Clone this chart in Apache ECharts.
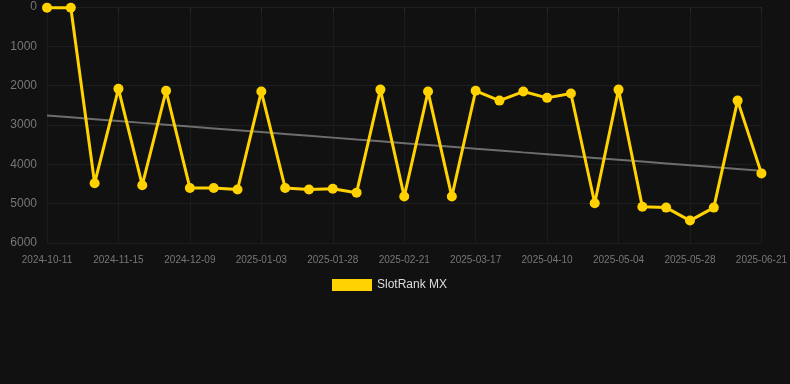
<!DOCTYPE html>
<html>
<head>
<meta charset="utf-8">
<script src="https://cdn.jsdelivr.net/npm/echarts@6/dist/echarts.min.js"></script>
<style>
html,body{margin:0;padding:0;background:#111111;}
#main{width:790px;height:384px;}
</style>
</head>
<body>
<div id="main"></div>
<script>
// 日期（类目轴）
var dates = ['2024-10-11','2024-10-23','2024-11-03','2024-11-15','2024-11-23','2024-12-01','2024-12-09','2024-12-17','2024-12-25',
	'2025-01-03','2025-01-11','2025-01-19','2025-01-28','2025-02-05','2025-02-13','2025-02-21','2025-03-01','2025-03-09',
	'2025-03-17','2025-03-25','2025-04-02','2025-04-10','2025-04-18','2025-04-26','2025-05-04','2025-05-12','2025-05-20',
	'2025-05-28','2025-06-05','2025-06-13','2025-06-21'];
// 排名
var rankValues = [20,20,4480,2080,4530,2130,4600,4600,4640,2150,4600,4640,4620,4720,2100,4820,2150,4820,
	2130,2380,2150,2310,2200,4990,2100,5080,5100,5430,5100,2380,4230];
var seriesName = 'SlotRank MX';

// 线性趋势
function trendLine(vals){
	var n = vals.length, sx = 0, sy = 0, sxy = 0, sxx = 0;
	for(var i=0;i<n;i++){
		sx += i; sy += vals[i]; sxy += i*vals[i]; sxx += i*i;
	}
	var k = (n*sxy - sx*sy)/(n*sxx - sx*sx);
	var b = (sy - k*sx)/n;
	var out = [];
	for(var j=0;j<n;j++){
		out.push(Math.round(k*j + b));
	}
	return out;
}
var trendValues = trendLine(rankValues);

var myChart = echarts.init(document.getElementById('main'));
var option = {
	backgroundColor: '#111111',
	animation: false,
	grid: {
		left: 47,
		right: 28,
		top: 7,
		height: 236
	},
	legend: {
		data: [seriesName],
		top: 274,
		left: 327,
		itemWidth: 40,
		itemHeight: 12,
		icon: 'rect',
		textStyle: {
			color: '#dddddd',
			fontSize: 12
		}
	},
	xAxis: {
		type: 'category',
		data: dates,
		boundaryGap: false,
		axisLine: {show: true, lineStyle: {color: '#1e1e1e'}},
		axisTick: {show: true, interval: 2, lineStyle: {color: '#2a2a2a'}},
		axisLabel: {
			interval: 2,
			color: '#777777',
			fontSize: 10,
			margin: 12
		},
		splitLine: {show: true, interval: 2, lineStyle: {color: '#1c1c1c'}}
	},
	yAxis: {
		type: 'value',
		inverse: true,
		min: 0,
		max: 6000,
		interval: 1000,
		axisLine: {show: false},
		axisTick: {show: false},
		axisLabel: {
			color: '#777777',
			fontSize: 12,
			margin: 10,
			formatter: function(v){ return String(v); }
		},
		splitLine: {lineStyle: {color: '#1f1f1f'}}
	},
	series: [{
		name: seriesName,
		type: 'line',
		data: rankValues,
		symbol: 'circle',
		symbolSize: 10,
		color: '#ffd200',
		lineStyle: {width: 3, color: '#ffd200'},
		itemStyle: {color: '#ffd200'},
		z: 5
	}, {
		name: 'trend',
		type: 'line',
		data: trendValues,
		symbol: 'none',
		lineStyle: {width: 2, color: '#6e6e6e'},
		z: 3
	}]
};
myChart.setOption(option);
</script>
</body>
</html>
